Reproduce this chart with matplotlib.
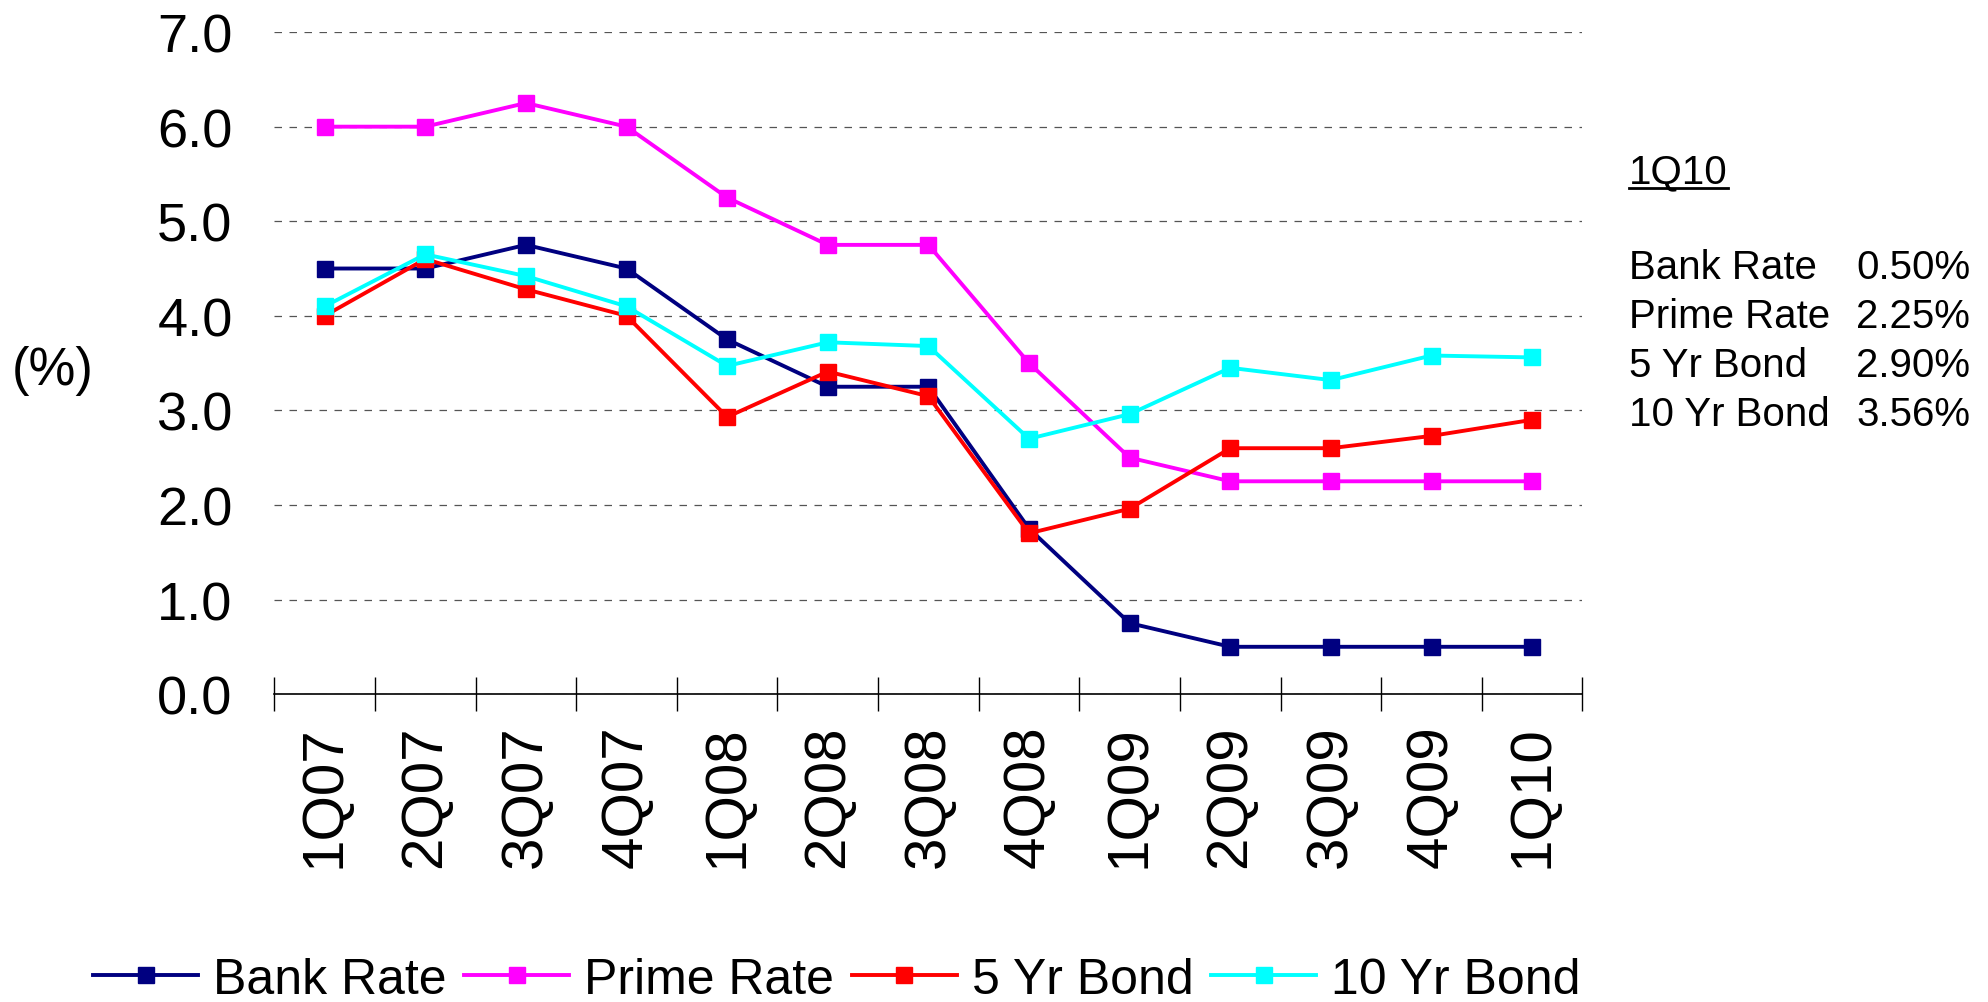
import matplotlib
matplotlib.use('Agg')
import matplotlib.pyplot as plt
from matplotlib.lines import Line2D

plt.rcParams['font.family'] = ['Liberation Sans', 'DejaVu Sans']

quarters = ['1Q07', '2Q07', '3Q07', '4Q07', '1Q08', '2Q08', '3Q08',
            '4Q08', '1Q09', '2Q09', '3Q09', '4Q09', '1Q10']
bank_rate = [4.50, 4.50, 4.75, 4.50, 3.75, 3.25, 3.25, 1.75, 0.75, 0.50, 0.50, 0.50, 0.50]
prime_rate = [6.00, 6.00, 6.25, 6.00, 5.25, 4.75, 4.75, 3.50, 2.50, 2.25, 2.25, 2.25, 2.25]
bond_5yr = [4.00, 4.60, 4.28, 4.00, 2.93, 3.41, 3.15, 1.70, 1.96, 2.60, 2.60, 2.73, 2.90]
bond_10yr = [4.10, 4.65, 4.42, 4.10, 3.47, 3.72, 3.68, 2.70, 2.96, 3.45, 3.32, 3.58, 3.56]

series = [('Bank Rate', bank_rate, '#000080'),
          ('Prime Rate', prime_rate, '#FF00FF'),
          ('5 Yr Bond', bond_5yr, '#FF0000'),
          ('10 Yr Bond', bond_10yr, '#00FFFF')]

fig = plt.figure(figsize=(19.88, 10.03), dpi=100)
ax = fig.add_axes([0.138, 0.307, 0.658, 0.66])

x = list(range(len(quarters)))
for name, vals, col in series:
    ax.plot(x, vals, color=col, lw=2.8, marker='s', markersize=11, label=name)

# axes / grid
ax.set_ylim(0, 7)
ax.set_xlim(-0.5, len(quarters) - 0.5)
ax.set_yticks([0, 1, 2, 3, 4, 5, 6, 7])
ax.set_yticklabels(['{:.1f}'.format(v) for v in range(8)], fontsize=39)
ax.tick_params(axis='y', length=0, pad=30)
ax.yaxis.grid(True, color='#555555', lw=0.9, linestyle=(0, (6, 6)))
ax.set_axisbelow(True)

ax.set_xticks([i - 0.5 for i in range(len(quarters) + 1)])
ax.set_xticklabels([])
ax.tick_params(axis='x', which='major', direction='inout', length=24, width=1)
ax.set_xticks(x, minor=True)
ax.set_xticklabels(quarters, minor=True, rotation=90, fontsize=42)
ax.tick_params(axis='x', which='minor', length=0, pad=22)

for s in ['top', 'right', 'left']:
    ax.spines[s].set_visible(False)
ax.spines['bottom'].set_linewidth(1.2)

fig.text(0.006, 0.63, '(%)', fontsize=38, ha='left', va='center')

ax.legend(loc='center', bbox_to_anchor=(0.421, 0.022), bbox_transform=fig.transFigure,
          ncol=4, frameon=False, fontsize=36, handlelength=2.1,
          handletextpad=0.3, columnspacing=0.35, borderpad=0)

# side note with latest quarter
t = fig.text(0.8195, 1 - 172 / 1003, quarters[-1], fontsize=29, ha='left', va='center')
row_y = [268, 317, 366, 415]
for (name, vals, col), yy in zip(series, row_y):
    fig.text(0.8195, 1 - yy / 1003, name, fontsize=29, ha='left', va='center')
    fig.text(0.991, 1 - yy / 1003, '{:.2f}%'.format(vals[-1]), fontsize=29, ha='right', va='center')

fig.canvas.draw()
bb = t.get_window_extent().transformed(fig.transFigure.inverted())
fig.add_artist(Line2D([bb.x0, bb.x1], [bb.y0 + 0.002, bb.y0 + 0.002], color='black', lw=2))

fig.savefig('out.png', dpi=100)
